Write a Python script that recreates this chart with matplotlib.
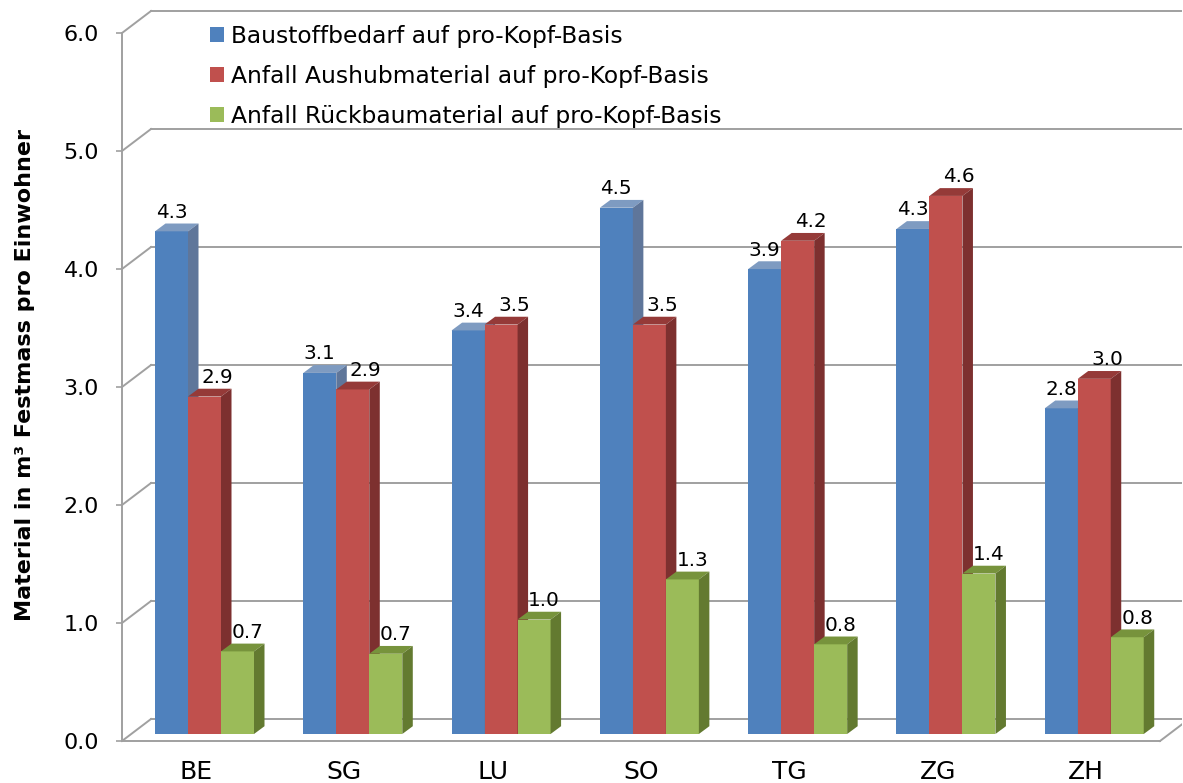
import matplotlib
matplotlib.use('Agg')
import matplotlib.pyplot as plt
from matplotlib.patches import Polygon, Patch

# Data (labels are rounded to 1 decimal)
cantons = ['BE', 'SG', 'LU', 'SO', 'TG', 'ZG', 'ZH']
series_names = ['Baustoffbedarf auf pro-Kopf-Basis',
                'Anfall Aushubmaterial auf pro-Kopf-Basis',
                'Anfall Rückbaumaterial auf pro-Kopf-Basis']
baustoff = [4.26, 3.06, 3.42, 4.46, 3.94, 4.28, 2.76]
aushub = [2.86, 2.92, 3.47, 3.47, 4.18, 4.56, 3.01]
rueckbau = [0.70, 0.68, 0.97, 1.31, 0.76, 1.36, 0.82]
yticks = [0, 1, 2, 3, 4, 5, 6]

# Colours: front, top, side for each series
colors = [('#4F81BD', '#7E9BC1', '#5F769A'),
          ('#C0504D', '#953A38', '#7D302F'),
          ('#9BBB59', '#77933C', '#637A30')]
grid_col = '#A0A0A0'

# Figure geometry (pixels per data unit, used for the fake 3D offsets)
W, H = 1183, 783
px_x, px_y = 148.29, 118.0
wall_dx, wall_dy = 29 / px_x, 22 / px_y      # back wall offset
bar_w = 33 / px_x
bar_x0 = 33 / px_x                           # first bar from category edge
bar_y0 = 7 / px_y                            # bars stand a little behind the front edge
bar_dx, bar_dy = 10.5 / px_x, 7.8 / px_y     # bar depth
lab_dx = [0, 13 / px_x, 10 / px_x]
lab_dy = 13.5 / px_y

xlim = (-0.5, 6.65)
ylim = (-0.1, 6.25)

fig = plt.figure(figsize=(W / 100, H / 100), dpi=100)
ax_w = (xlim[1] - xlim[0]) * px_x
ax_h = (ylim[1] - ylim[0]) * px_y
bottom_px = 741 + (0 - ylim[0]) * px_y
ax = fig.add_axes([122 / W, (H - bottom_px) / H, ax_w / W, ax_h / H])
ax.set_xlim(*xlim)
ax.set_ylim(*ylim)

# Back wall gridlines and side wall diagonals
xl, xr = -0.5, 6.5
for v in yticks:
    ax.plot([xl + wall_dx, xr + wall_dx + 0.3], [v + wall_dy, v + wall_dy],
            color=grid_col, lw=1.4, zorder=1)
    ax.plot([xl, xl + wall_dx], [v, v + wall_dy], color=grid_col, lw=1.4,
            zorder=1, clip_on=False)

# Floor front edge and right diagonal
ax.plot([xl, xr], [0, 0], color=grid_col, lw=1.4, zorder=1)
ax.plot([xr, xr + wall_dx], [0, wall_dy], color=grid_col, lw=1.4, zorder=1)

# Bars, drawn left to right so the faces overlap correctly
for i in range(len(cantons)):
    for s, vals in enumerate([baustoff, aushub, rueckbau]):
        v = vals[i]
        x0 = i - 0.5 + bar_x0 + s * bar_w
        x1 = x0 + bar_w
        y0 = bar_y0
        y1 = y0 + v
        front, top, side = colors[s]
        ax.add_patch(Polygon([(x0, y0), (x1, y0), (x1, y1), (x0, y1)],
                             closed=True, facecolor=front, edgecolor='none',
                             zorder=2))
        ax.add_patch(Polygon([(x0, y1), (x1, y1), (x1 + bar_dx, y1 + bar_dy),
                              (x0 + bar_dx, y1 + bar_dy)],
                             closed=True, facecolor=top, edgecolor='none',
                             zorder=2))
        ax.add_patch(Polygon([(x1, y0), (x1 + bar_dx, y0 + bar_dy),
                              (x1 + bar_dx, y1 + bar_dy), (x1, y1)],
                             closed=True, facecolor=side, edgecolor='none',
                             zorder=2))
        ax.text((x0 + x1) / 2 + lab_dx[s], y1 + lab_dy, '%.1f' % v,
                ha='center', va='baseline', fontsize=14.4, color='black',
                zorder=3)

# Axes styling
for sp in ['top', 'right', 'bottom']:
    ax.spines[sp].set_visible(False)
ax.spines['left'].set_bounds(0, 6)
ax.spines['left'].set_color(grid_col)
ax.spines['left'].set_linewidth(1.4)
ax.set_yticks(yticks)
ax.set_yticklabels(['%.1f' % t for t in yticks])
ax.tick_params(axis='y', length=4.5, width=1.2, color=grid_col, pad=12,
               labelsize=16)
ax.set_xticks(range(len(cantons)))
ax.set_xticklabels(cantons)
ax.tick_params(axis='x', length=0, pad=5, labelsize=18)

ax.set_ylabel('Material in m³ Festmass pro Einwohner', fontsize=16,
              fontweight='bold')
ax.yaxis.set_label_coords((35 - 122) / ax_w, (bottom_px - 375) / ax_h)

# Legend
handles = [Patch(facecolor=c[0], edgecolor='none') for c in colors]
ax.legend(handles, series_names, loc='upper left',
          bbox_to_anchor=(210 / W, 1 - 25 / H), bbox_transform=fig.transFigure,
          frameon=False, fontsize=16.8, handlelength=0.6, handleheight=0.6,
          handletextpad=0.3, labelspacing=0.72, borderpad=0, borderaxespad=0)

fig.savefig('out.png', dpi=100)
